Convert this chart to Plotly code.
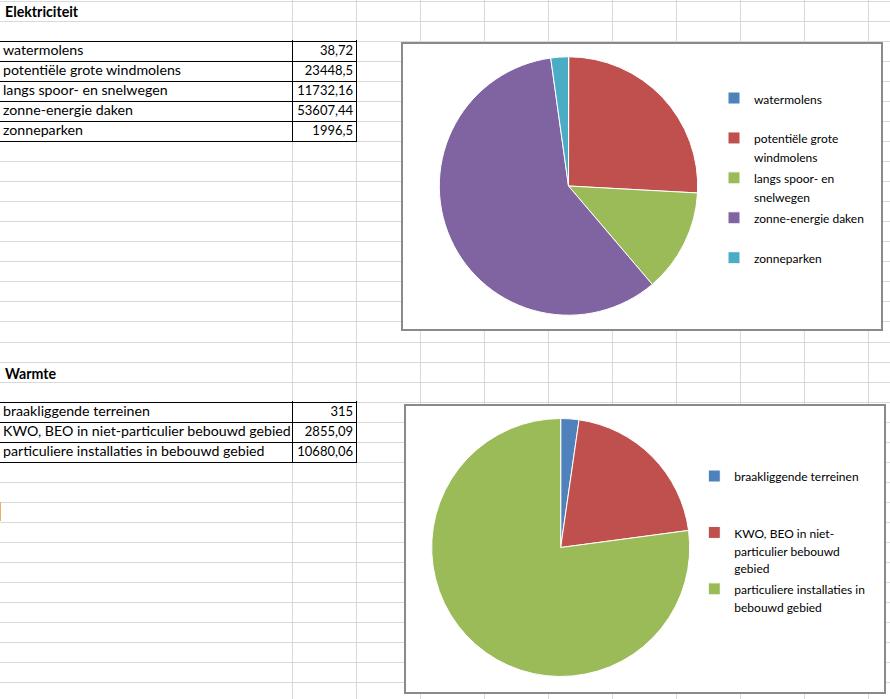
import plotly.graph_objects as go

W, H = 890, 699

# ---------------- data ----------------
elec_categories = ["watermolens", "potentiële grote windmolens", "langs spoor- en snelwegen",
                   "zonne-energie daken", "zonneparken"]
elec_values = [38.72, 23448.5, 11732.16, 53607.44, 1996.5]
elec_legend_lines = [["watermolens"], ["potentiële grote", "windmolens"], ["langs spoor- en", "snelwegen"],
                     ["zonne-energie daken"], ["zonneparken"]]

heat_categories = ["braakliggende terreinen", "KWO, BEO in niet-particulier bebouwd gebied",
                   "particuliere installaties in bebouwd gebied"]
heat_values = [315, 2855.09, 10680.06]
heat_legend_lines = [["braakliggende terreinen"], ["KWO, BEO in niet-", "particulier bebouwd", "gebied"],
                     ["particuliere installaties in", "bebouwd gebied"]]

elec_colors = ["#4F81BD", "#C0504D", "#9BBB59", "#8064A2", "#4BACC6"]
heat_colors = ["#4F81BD", "#C0504D", "#9BBB59"]

# ---------------- sheet geometry (pixels) ----------------
ROW_H = 20
COL_A = 292
COL_W = 64
PAD = 3
FONT = "Lato"
CELL_FONT = 14.2
NUM_FONT = 13
LEG_FONT = 12
GRID = "#d9d9d9"


def fmt_nl(v):
    s = ("%.2f" % v).rstrip("0").rstrip(".")
    return s.replace(".", ",")


def px_y(p):
    return 1 - p / H


def legend_label(lines, n, size):
    parts = ["<span style='font-size:%gpx'>%s</span>" % (size, t) for t in lines]
    parts += [" "] * (n - len(parts))
    return "<br>".join(parts)


fig = go.Figure()

# sheet background axes (pixel coordinates)
fig.add_trace(go.Scatter(x=[], y=[], xaxis="x", yaxis="y", showlegend=False, hoverinfo="skip"))
col_lines = [COL_A + 0.5 + COL_W * k for k in range(10)]
row_lines = [1.5 + ROW_H * k for k in range(17)] + [342.5 + ROW_H * k for k in range(18)]


def add_table(n_ax, cats, vals, top_line_px):
    xa, ya = "x%d" % n_ax, "y%d" % n_ax
    n = len(cats)
    eps_px = 1.2
    top = top_line_px + 0.5 - eps_px          # domain top (px)
    bottom = top_line_px + n * ROW_H          # domain bottom (px); x axis line drawn just below
    r_top = -0.5 - eps_px / ROW_H
    r_bottom = r_top + (bottom - top) / ROW_H
    fig.add_trace(go.Scatter(x=[PAD] * n, y=cats, text=cats, mode="text", textposition="middle right",
                             textfont=dict(family=FONT, size=CELL_FONT, color="black"),
                             xaxis=xa, yaxis=ya, showlegend=False, hoverinfo="skip", cliponaxis=False))
    fig.add_trace(go.Scatter(x=[COL_A + COL_W - PAD] * n, y=cats, text=[fmt_nl(v) for v in vals],
                             mode="text", textposition="middle left",
                             textfont=dict(family=FONT, size=NUM_FONT, color="black"),
                             xaxis=xa, yaxis=ya, showlegend=False, hoverinfo="skip", cliponaxis=False))
    fig.layout["xaxis%d" % n_ax] = dict(
        domain=[0, (COL_A + COL_W) / W], range=[0, COL_A + COL_W], anchor=ya, side="bottom",
        showgrid=True, gridcolor="black", gridwidth=1, tickmode="array", tickvals=[COL_A + 0.5],
        showticklabels=False, ticks="", zeroline=False,
        showline=True, linecolor="black", linewidth=1, mirror=False, fixedrange=True)
    fig.layout["yaxis%d" % n_ax] = dict(
        domain=[px_y(bottom), px_y(top)], type="category", categoryorder="array", categoryarray=cats,
        range=[r_bottom, r_top], anchor=xa, showgrid=True, gridcolor="black", gridwidth=1,
        tickson="boundaries", showticklabels=False, ticks="", zeroline=False,
        showline=True, linecolor="black", linewidth=1, mirror=True, fixedrange=True)


add_table(2, elec_categories, elec_values, 41)
add_table(3, heat_categories, heat_values, 402)


def pie_domain(cx, cy, r):
    return dict(x=[(cx - r) / W, (cx + r) / W], y=[px_y(cy + r), px_y(cy - r)])


fig.add_trace(go.Pie(
    labels=[legend_label(l, 2, LEG_FONT) for l in elec_legend_lines], values=elec_values,
    sort=False, direction="clockwise", rotation=0, textinfo="none", hoverinfo="skip",
    marker=dict(colors=elec_colors, line=dict(color="white", width=1)),
    domain=pie_domain(568.5, 186, 129.2), legend="legend"))

fig.add_trace(go.Pie(
    labels=[legend_label(l, 3, LEG_FONT) for l in heat_legend_lines], values=heat_values,
    sort=False, direction="clockwise", rotation=0, textinfo="none", hoverinfo="skip",
    marker=dict(colors=heat_colors, line=dict(color="white", width=1)),
    domain=pie_domain(560.7, 547.5, 129), legend="legend2"))

# chart frames
shapes = [
    dict(type="rect", xref="x", yref="y", x0=402, y0=43, x1=882, y1=330, layer="between",
         fillcolor="white", line=dict(color="#8a8a8a", width=2)),
    dict(type="rect", xref="x", yref="y", x0=405, y0=405, x1=885, y1=693, layer="between",
         fillcolor="white", line=dict(color="#8a8a8a", width=2)),
    dict(type="line", xref="x", yref="y", x0=0.5, x1=0.5, y0=502, y1=521, layer="between",
         line=dict(color="#e8b060", width=1)),
]

fig.update_layout(
    width=W, height=H, margin=dict(l=0, r=0, t=0, b=0),
    paper_bgcolor="white", plot_bgcolor="white", hovermode=False, dragmode=False,
    showlegend=True, shapes=shapes,
    xaxis=dict(domain=[0, 1], range=[0, W], showgrid=True, gridcolor=GRID, gridwidth=1,
               tickmode="array", tickvals=col_lines, showticklabels=False, ticks="",
               zeroline=False, showline=False, fixedrange=True),
    yaxis=dict(domain=[0, 1], range=[H, 0], showgrid=True, gridcolor=GRID, gridwidth=1,
               tickmode="array", tickvals=row_lines, showticklabels=False, ticks="",
               zeroline=False, showline=False, fixedrange=True),
    legend=dict(x=714 / W, y=px_y(82.3), xanchor="left", yanchor="top", valign="top",
                font=dict(family=FONT, size=14.2, color="black"), bgcolor="rgba(0,0,0,0)",
                borderwidth=0),
    legend2=dict(x=694.3 / W, y=px_y(460.6), xanchor="left", yanchor="top", valign="top",
                 font=dict(family=FONT, size=13.7, color="black"), bgcolor="rgba(0,0,0,0)",
                 borderwidth=0),
    annotations=[
        dict(text="<b>Elektriciteit</b>", x=PAD, y=11.5, xref="x", yref="y", xanchor="left",
             yanchor="middle", showarrow=False, font=dict(family=FONT, size=CELL_FONT, color="black")),
        dict(text="<b>Warmte</b>", x=PAD, y=373, xref="x", yref="y", xanchor="left",
             yanchor="middle", showarrow=False, font=dict(family=FONT, size=CELL_FONT, color="black")),
    ],
)

fig.write_html("out.html", config={"displayModeBar": False},
               post_script="document.body.style.margin='0px';")
